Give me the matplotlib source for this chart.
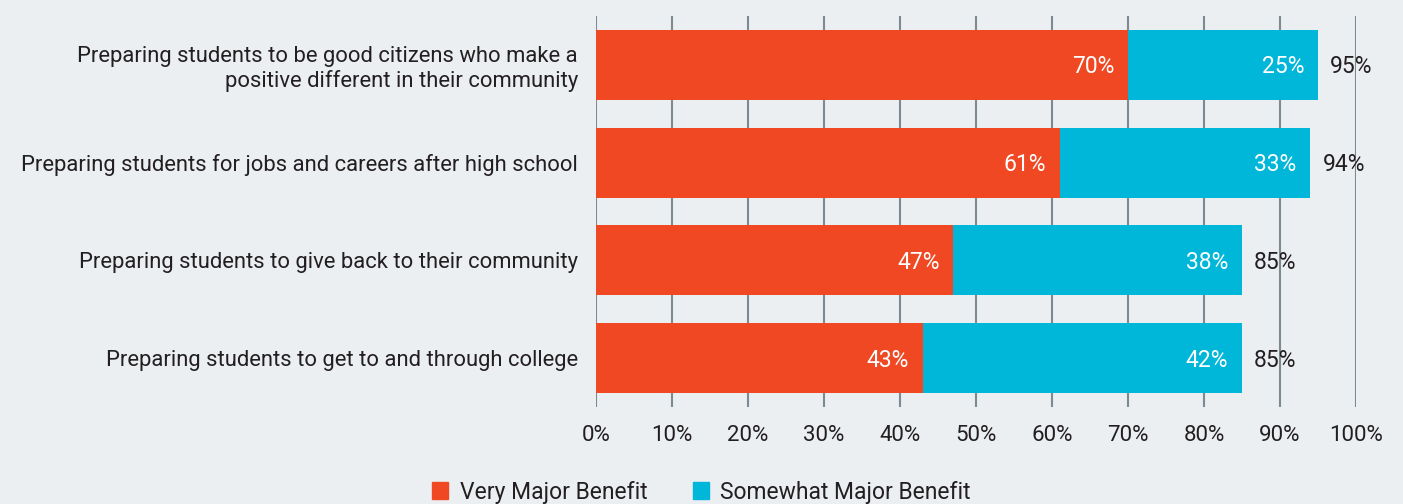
import matplotlib.pyplot as plt
from matplotlib.patches import Patch

# data
categories = [
    'Preparing students to be good citizens who make a\npositive different in their community',
    'Preparing students for jobs and careers after high school',
    'Preparing students to give back to their community',
    'Preparing students to get to and through college',
]
very_major = [70, 61, 47, 43]
somewhat_major = [25, 33, 38, 42]
totals = [95, 94, 85, 85]
ticks = [0, 10, 20, 30, 40, 50, 60, 70, 80, 90, 100]

ORANGE = '#EF4823'
CYAN = '#00B6D9'
BG = '#EBEFF2'
TEXT = '#231F20'
GRID = '#7D8A92'

plt.rcParams['font.family'] = ['Roboto', 'DejaVu Sans']

fig = plt.figure(figsize=(14.03, 5.04), dpi=100, facecolor=BG)
ax = fig.add_axes([0.4248, 0.1925, 0.5417, 0.7755], facecolor=BG)

y = list(range(len(categories)))
ax.barh(y, very_major, height=0.715, color=ORANGE, zorder=2)
ax.barh(y, somewhat_major, left=very_major, height=0.715, color=CYAN, zorder=2)

for i in y:
    ax.text(very_major[i] - 1.8, i + 0.02, f'{very_major[i]}%', ha='right', va='center',
            color='white', fontsize=16.5, zorder=3)
    ax.text(totals[i] - 1.8, i + 0.02, f'{somewhat_major[i]}%', ha='right', va='center',
            color='white', fontsize=16.5, zorder=3)
    ax.text(totals[i] + 1.6, i + 0.02, f'{totals[i]}%', ha='left', va='center',
            color=TEXT, fontsize=16.5, zorder=3)

ax.set_xlim(0, 100)
ax.set_ylim(3.5, -0.5)
ax.set_xticks(ticks)
ax.set_xticklabels([f'{t}%' for t in ticks], fontsize=16, color=TEXT)
ax.set_yticks(y)
ax.set_yticklabels(categories, fontsize=15.8, color=TEXT, linespacing=1.2)
ax.tick_params(axis='both', length=0)
ax.tick_params(axis='x', pad=13)
ax.tick_params(axis='y', pad=13)
ax.xaxis.grid(True, color=GRID, linewidth=1.5, zorder=1)
ax.set_axisbelow(True)
for s in ax.spines.values():
    s.set_visible(False)

handles = [Patch(color=ORANGE, label='Very Major Benefit'),
           Patch(color=CYAN, label='Somewhat Major Benefit')]
fig.legend(handles=handles, loc='lower center', bbox_to_anchor=(0.5, -0.04), ncol=2,
           frameon=False, fontsize=16.5, handlelength=0.7, handleheight=0.7,
           handletextpad=0.5, columnspacing=2.0, labelcolor=TEXT)

fig.savefig('out.png', dpi=100, facecolor=BG)
